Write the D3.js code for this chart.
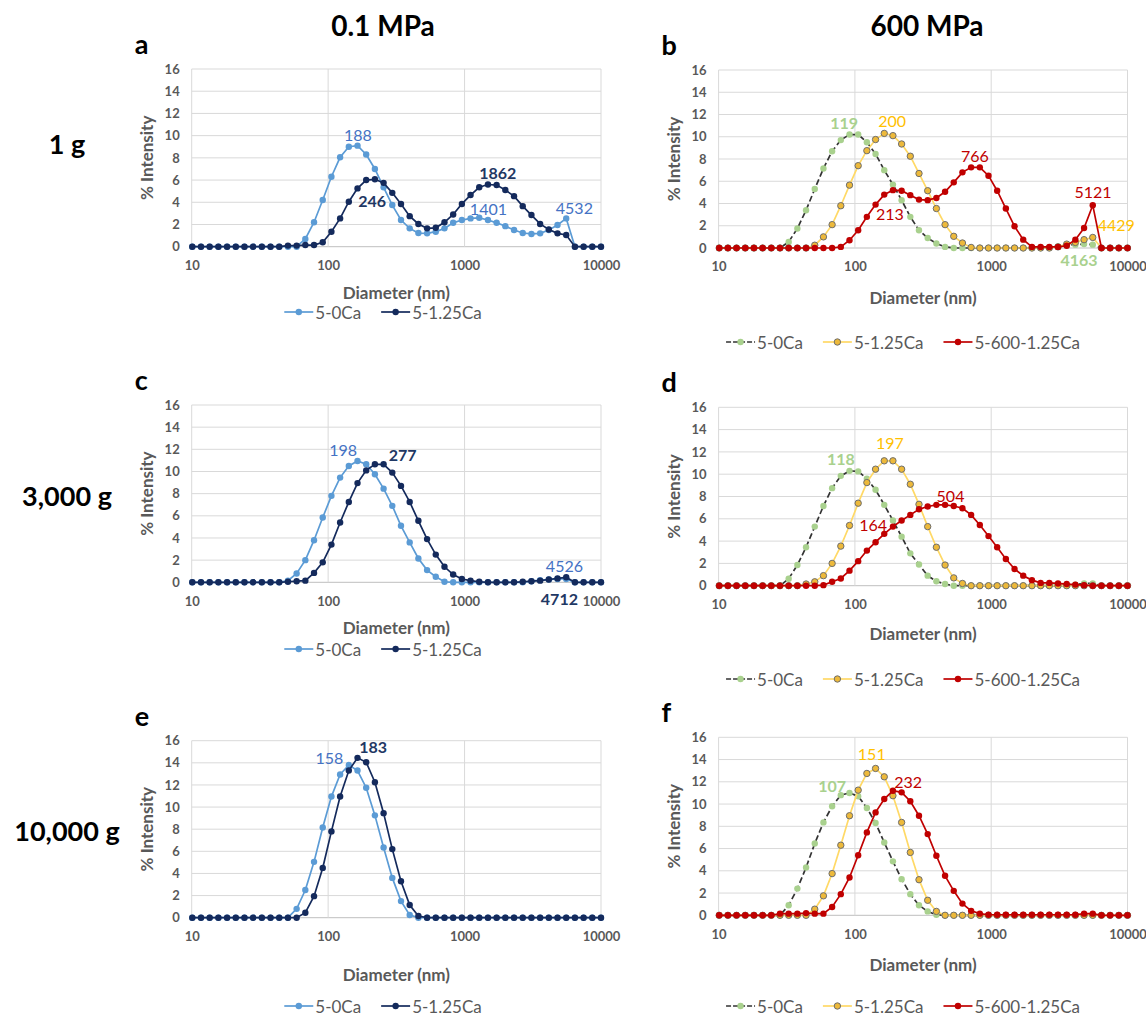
<!DOCTYPE html>
<html><head><meta charset="utf-8">
<script src="https://cdn.jsdelivr.net/npm/d3@7"></script>
<style>
html,body{margin:0;padding:0;background:#fff;}
svg{display:block;font-family:Lato,"Open Sans",sans-serif;}
</style></head>
<body>
<svg id="chart" width="1146" height="1017"></svg>
<script>
// ---------------- DATA ----------------
const diameters = [10.10, 11.70, 13.54, 15.69, 18.17, 21.04, 24.36, 28.21, 32.67, 37.84, 43.82, 50.75, 58.77, 68.06, 78.82, 91.28, 105.7, 122.4, 141.8, 164.2, 190.1, 220.2, 255.0, 295.3, 342.0, 396.1, 458.7, 531.2, 615.1, 712.4, 825.0, 955.4, 1106, 1281, 1484, 1718, 1990, 2305, 2669, 3091, 3580, 4145, 4801, 5560, 6439, 7456, 8635, 10000];
const xTicks = [10, 100, 1000, 10000];
const xTickLabels = ["10", "100", "1000", "10000"];
const yTicks = [0, 2, 4, 6, 8, 10, 12, 14, 16];
const columnTitles = ["0.1 MPa", "600 MPa"];
const rowTitles = ["1 g", "3,000 g", "10,000 g"];
const panelLetters = ["a", "b", "c", "d", "e", "f"];
const seriesNames01 = ["5-0Ca", "5-1.25Ca"];
const seriesNames600 = ["5-0Ca", "5-1.25Ca", "5-600-1.25Ca"];
const xTitle = "Diameter (nm)";
const yTitle = "% Intensity";

// panel a (1 g, 0.1 MPa)
const a_5_0Ca    = [0,0,0,0,0,0,0,0,0,0,0,0,0,0.7,2.2,4.2,6.3,8.05,9.0,9.1,8.3,7.0,5.35,3.75,2.4,1.65,1.23,1.2,1.35,1.65,2.15,2.4,2.55,2.6,2.4,2.15,1.85,1.5,1.23,1.15,1.2,1.5,1.95,2.55,0,0,0,0];
const a_5_125Ca  = [0,0,0,0,0,0,0,0,0,0,0,0.1,0.1,0.15,0.15,0.4,1.35,2.55,4.05,5.25,6.0,6.07,5.75,4.85,3.85,2.75,2.05,1.65,1.7,2.2,2.9,3.85,4.65,5.35,5.6,5.55,5.1,4.55,3.65,2.85,2.05,1.55,1.2,1.05,0,0,0,0];
// panel b (1 g, 600 MPa)
const b_5_0Ca    = [0,0,0,0,0,0,0,0,0.55,1.75,3.4,5.3,7.15,8.7,9.7,10.2,10.2,9.5,8.45,7.0,5.7,4.3,2.8,1.6,0.9,0.4,0.1,0,0,0,0,0,0,0,0,0,0,0,0.05,0.15,0.25,0.3,0.35,0.3,0,0,0,0];
const b_5_125Ca  = [0,0,0,0,0,0,0,0,0,0,0,0.25,1.0,2.1,3.8,5.65,7.4,8.75,9.75,10.3,10.1,9.35,8.25,6.7,5.15,3.55,2.1,1.05,0.45,0.05,0,0,0,0,0,0,0,0,0,0.1,0.35,0.5,0.75,0.95,0,0,0,0];
const b_5_600_125Ca = [0,0,0,0,0,0,0,0,0,0,0,0,0,0,0.1,0.7,1.6,2.8,3.9,4.8,5.2,5.15,4.75,4.35,4.3,4.5,5.05,5.9,6.8,7.25,7.25,6.5,5.15,3.55,1.95,0.75,0.1,0.1,0.1,0.1,0.2,0.75,1.8,3.85,0,0,0,0];
// panel c (3,000 g, 0.1 MPa)
const c_5_0Ca    = [0,0,0,0,0,0,0,0,0,0,0,0.15,0.8,2.0,3.8,5.85,7.8,9.45,10.5,10.95,10.65,9.75,8.45,6.9,5.1,3.6,2.15,1.1,0.5,0.05,0,0,0,0,0,0,0,0,0,0.1,0.2,0.25,0.3,0.3,0,0,0,0];
const c_5_125Ca  = [0,0,0,0,0,0,0,0,0,0,0,0.05,0.1,0.15,0.85,1.8,3.4,5.4,7.25,8.95,10.1,10.65,10.65,9.9,8.7,7.25,5.55,3.9,2.5,1.4,0.7,0.3,0.15,0.05,0,0,0,0,0.05,0.1,0.15,0.25,0.35,0.45,0,0,0,0];
// panel d (3,000 g, 600 MPa)
const d_5_0Ca    = [0,0,0,0,0,0,0,0,0.63,1.85,3.45,5.3,7.15,8.75,9.85,10.3,10.25,9.6,8.6,7.25,5.85,4.4,2.9,1.9,0.9,0.4,0.15,0,0,0,0,0,0,0,0,0,0,0,0,0,0,0.1,0.2,0.2,0,0,0,0];
const d_5_125Ca  = [0,0,0,0,0,0,0,0,0,0,0.15,0.35,0.9,2.0,3.55,5.4,7.4,9.25,10.45,11.2,11.2,10.45,9.1,7.3,5.3,3.45,1.85,0.7,0.2,0,0,0,0,0,0,0,0,0,0,0,0,0,0,0,0,0,0,0];
const d_5_600_125Ca = [0,0,0,0,0,0,0,0,0,0,0,0,0.05,0.35,0.65,1.35,2.2,3.15,3.9,4.65,5.3,5.85,6.35,6.85,7.1,7.25,7.25,7.15,6.95,6.35,5.45,4.45,3.45,2.4,1.5,0.9,0.5,0.25,0.25,0.2,0.15,0.1,0.05,0,0,0,0,0];
// panel e (10,000 g, 0.1 MPa)
const e_5_0Ca    = [0,0,0,0,0,0,0,0,0,0,0,0,0.8,2.5,5.05,8.15,10.95,12.95,13.8,13.3,11.75,9.25,6.35,3.6,1.5,0.25,0,0,0,0,0,0,0,0,0,0,0,0,0,0,0,0,0,0,0,0,0,0];
const e_5_125Ca  = [0,0,0,0,0,0,0,0,0,0,0,0,0,0.45,1.95,4.5,7.8,10.95,13.3,14.45,14.05,12.25,9.45,6.2,3.3,1.15,0.15,0,0,0,0,0,0,0,0,0,0,0,0,0,0,0,0,0,0,0,0,0];
// panel f (10,000 g, 600 MPa)
const f_5_0Ca    = [0,0,0,0,0,0,0,0,0.9,2.4,4.3,6.45,8.35,9.8,10.8,11.0,10.7,9.65,8.3,6.55,4.85,3.25,1.9,0.9,0.35,0.05,0,0,0,0,0,0,0,0,0,0,0,0,0,0,0,0,0,0,0,0,0,0];
const f_5_125Ca  = [0,0,0,0,0,0,0,0,0,0,0,0.55,1.75,3.75,6.3,8.95,11.25,12.75,13.2,12.45,10.75,8.35,5.65,3.2,1.35,0.35,0,0,0,0,0,0,0,0,0,0,0,0,0,0,0,0,0,0,0,0,0,0];
const f_5_600_125Ca = [0,0,0,0,0,0,0,0.15,0.15,0.15,0.2,0.15,0.15,0.75,1.9,3.4,5.4,7.45,9.25,10.45,11.2,11.05,10.25,8.95,7.3,5.35,3.55,2.2,1.05,0.4,0.15,0.05,0.05,0.05,0.05,0.05,0.05,0.05,0.05,0.05,0.05,0.05,0.15,0.15,0,0,0,0];

// peak annotations: text, diameter, intensity (label centre), series index
const a_labels = [["188",165,10.06,0],["246",210,4.14,1],["1862",1750,6.67,1],["1401",1496,3.46,0],["4532",6380,3.51,0]];
const b_labels = [["119",83.5,11.26,0],["200",187.7,11.5,1],["766",758,8.27,2],["213",180.5,3.12,2],["5121",5585,5.12,2],["4429",8280,2.13,1],["4163",4411,-0.99,0]];
const c_labels = [["198",129,11.94,0],["277",352,11.55,1],["4526",5395,1.5,0],["4712",4955,-1.44,1]];
const d_labels = [["118",78.9,11.43,0],["197",180.5,12.86,1],["504",503,8.1,2],["164",136,5.5,2]];
const e_labels = [["158",102,14.47,0],["183",214,15.46,1]];
const f_labels = [["107",68.2,11.65,0],["151",133,14.56,1],["232",246,12.0,2]];

// ---------------- STYLES ----------------
const styles01 = [
  {line:"#5B9BD5", fill:"#5B9BD5", stroke:"none", dash:null, label:"#4472C4", bold:false},
  {line:"#142A5C", fill:"#142A5C", stroke:"none", dash:null, label:"#1F3864", bold:true}
];
const styles600 = [
  {line:"#333333", fill:"#A9D18E", stroke:"none", dash:"6,3", label:"#A9D18E", bold:true},
  {line:"#FFD966", fill:"#EDB93A", stroke:"#6E6E6E", dash:null, label:"#FFC000", bold:false},
  {line:"#C00000", fill:"#C00000", stroke:"none", dash:null, label:"#C00000", bold:false}
];

const colA = {L:191.7, R:601};
const colB = {L:718.6, R:1127.5};
const panels = [
  {box:{...colA, T:69,    B:246.7}, series:[a_5_0Ca,a_5_125Ca], names:seriesNames01, styles:styles01, labels:a_labels, letter:panelLetters[0], titleY:292, legendY:312, legendCX:383},
  {box:{...colB, T:70,    B:248},   series:[b_5_0Ca,b_5_125Ca,b_5_600_125Ca], names:seriesNames600, styles:styles600, labels:b_labels, letter:panelLetters[1], titleY:297, legendY:342, legendCX:903},
  {box:{...colA, T:405,   B:582.3}, series:[c_5_0Ca,c_5_125Ca], names:seriesNames01, styles:styles01, labels:c_labels, letter:panelLetters[2], titleY:627, legendY:649, legendCX:383},
  {box:{...colB, T:407.3, B:585.7}, series:[d_5_0Ca,d_5_125Ca,d_5_600_125Ca], names:seriesNames600, styles:styles600, labels:d_labels, letter:panelLetters[3], titleY:633, legendY:679, legendCX:903},
  {box:{...colA, T:740.7, B:917.7}, series:[e_5_0Ca,e_5_125Ca], names:seriesNames01, styles:styles01, labels:e_labels, letter:panelLetters[4], titleY:974, legendY:1006, legendCX:383},
  {box:{...colB, T:737.3, B:915.3}, series:[f_5_0Ca,f_5_125Ca,f_5_600_125Ca], names:seriesNames600, styles:styles600, labels:f_labels, letter:panelLetters[5], titleY:964, legendY:1006, legendCX:903}
];

const svg = d3.select("#chart");
const grey = "#595959";

// column and row headings
svg.selectAll("text.col").data(columnTitles).join("text")
  .attr("x",(d,i)=>[383,927][i]).attr("y",36).attr("text-anchor","middle")
  .attr("font-size",28).attr("font-weight",700).attr("fill","#000").text(d=>d);
svg.selectAll("text.row").data(rowTitles).join("text")
  .attr("x",67).attr("y",(d,i)=>[154,506,841][i]).attr("text-anchor","middle")
  .attr("font-size",27).attr("font-weight",700).attr("fill","#000").text(d=>d);

panels.forEach((p,pi)=>{
  const g = svg.append("g");
  const x = d3.scaleLog().domain([10,10000]).range([p.box.L,p.box.R]);
  const y = d3.scaleLinear().domain([0,16]).range([p.box.B,p.box.T]);

  // panel letter
  g.append("text").attr("x",p.box.L-57).attr("y",p.box.T-15)
    .attr("font-size",27).attr("font-weight",700).attr("fill","#000").text(p.letter);

  // horizontal gridlines
  g.append("g").selectAll("line").data(yTicks).join("line")
    .attr("x1",p.box.L).attr("x2",p.box.R).attr("y1",d=>y(d)).attr("y2",d=>y(d))
    .attr("stroke",d=>d===0?"#BFBFBF":"#D9D9D9").attr("stroke-width",1);
  // vertical gridlines
  g.append("g").selectAll("line").data(xTicks).join("line")
    .attr("x1",d=>x(d)).attr("x2",d=>x(d)).attr("y1",p.box.T).attr("y2",p.box.B)
    .attr("stroke","#D9D9D9").attr("stroke-width",1);

  // y axis labels
  const yAxis = d3.axisLeft(y).tickValues(yTicks).tickSize(0).tickPadding(12);
  const ya = g.append("g").attr("transform",`translate(${p.box.L},0)`).call(yAxis);
  ya.select(".domain").remove();
  ya.selectAll("text").attr("font-size",13).attr("font-weight",700).attr("fill",grey).attr("font-family","Lato");
  // x axis labels
  const xAxis = d3.axisBottom(x).tickValues(xTicks).tickFormat((d,i)=>xTickLabels[i]).tickSize(0).tickPadding(14);
  const xa = g.append("g").attr("transform",`translate(0,${p.box.B})`).call(xAxis);
  xa.select(".domain").remove();
  xa.selectAll("text").attr("font-size",13).attr("font-weight",700).attr("fill",grey).attr("font-family","Lato");

  // axis titles
  g.append("text").attr("transform",`translate(${p.box.L-45},${(p.box.T+p.box.B)/2}) rotate(-90)`)
    .attr("text-anchor","middle").attr("dominant-baseline","central")
    .attr("font-size",17).attr("font-weight",700).attr("fill",grey).text(yTitle);
  g.append("text").attr("x",(p.box.L+p.box.R)/2).attr("y",p.titleY)
    .attr("text-anchor","middle").attr("dominant-baseline","central")
    .attr("font-size",17).attr("font-weight",700).attr("fill",grey).text(xTitle);

  // series
  const line = d3.line().x((d,i)=>x(diameters[i])).y(d=>y(d));
  p.series.forEach((vals,si)=>{
    const st = p.styles[si];
    const sg = g.append("g");
    sg.append("path").attr("d",line(vals)).attr("fill","none")
      .attr("stroke",st.line).attr("stroke-width",1.7)
      .attr("stroke-dasharray",st.dash);
    sg.selectAll("circle").data(vals).join("circle")
      .attr("cx",(d,i)=>x(diameters[i])).attr("cy",d=>y(d)).attr("r",3.2)
      .attr("fill",st.fill).attr("stroke",st.stroke).attr("stroke-width",1);
  });

  // peak labels
  g.append("g").selectAll("text").data(p.labels).join("text")
    .attr("x",d=>x(d[1])).attr("y",d=>y(d[2]))
    .attr("text-anchor","middle").attr("dominant-baseline","central")
    .attr("font-size",16).attr("font-weight",d=>p.styles[d[3]].bold?700:400)
    .attr("fill",d=>p.styles[d[3]].label).text(d=>d[0]);

  // legend
  const lg = g.append("g");
  let cx = 0;
  p.names.forEach((nm,si)=>{
    const st = p.styles[si];
    const it = lg.append("g").attr("transform",`translate(${cx},0)`);
    it.append("line").attr("x1",0).attr("x2",29).attr("y1",0).attr("y2",0)
      .attr("stroke",st.line).attr("stroke-width",1.7).attr("stroke-dasharray",st.dash?"5,2":null);
    it.append("circle").attr("cx",14.5).attr("cy",0).attr("r",3.2)
      .attr("fill",st.fill).attr("stroke",st.stroke).attr("stroke-width",1);
    const t = it.append("text").attr("x",31).attr("y",0).attr("dominant-baseline","central")
      .attr("font-size",17).attr("fill",grey).text(nm);
    const w = t.node().getComputedTextLength();
    cx += 31 + w + 20;
  });
  const total = cx - 20;
  lg.attr("transform",`translate(${p.legendCX-total/2},${p.legendY})`);
});
</script>
</body></html>
